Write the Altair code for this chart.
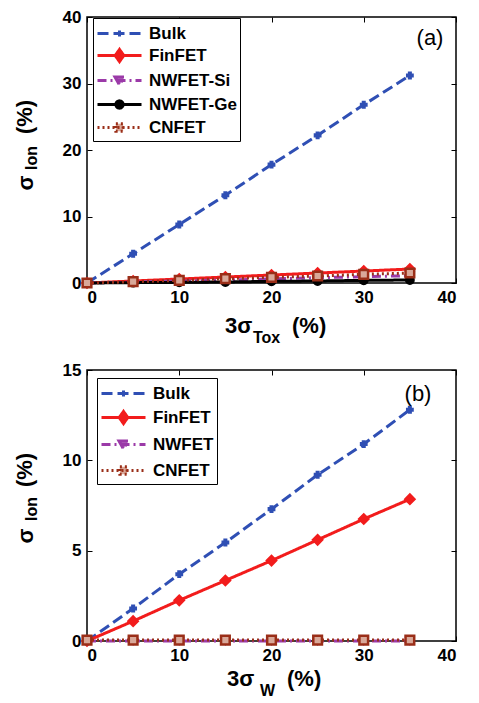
import altair as alt
import pandas as pd

# ---------------- data ----------------
x_vals = [0, 5, 10, 15, 20, 25, 30, 35]

# panel (a): sigma_Ion vs 3 sigma_Tox
a_names = ["Bulk", "FinFET", "NWFET-Si", "NWFET-Ge", "CNFET"]
a_bulk = [0, 4.4, 8.8, 13.2, 17.8, 22.2, 26.8, 31.2]
a_finfet = [0, 0.3, 0.6, 0.9, 1.2, 1.5, 1.8, 2.1]
a_nwsi = [0, 0.15, 0.3, 0.45, 0.6, 0.8, 0.95, 1.1]
a_nwge = [0, 0.05, 0.1, 0.15, 0.25, 0.3, 0.4, 0.45]
a_cnfet = [0, 0.2, 0.4, 0.65, 0.85, 1.05, 1.3, 1.5]

# panel (b): sigma_Ion vs 3 sigma_W
b_names = ["Bulk", "FinFET", "NWFET", "CNFET"]
b_bulk = [0, 1.8, 3.7, 5.45, 7.3, 9.2, 10.9, 12.8]
b_finfet = [0, 1.1, 2.25, 3.35, 4.45, 5.6, 6.75, 7.85]
b_nwfet = [0, 0, 0, 0, 0, 0, 0, 0]
b_cnfet = [0.05, 0.05, 0.05, 0.05, 0.05, 0.05, 0.05, 0.05]

# ---------------- styles ----------------
# legend symbol paths: unit = 11 px (symbolSize 484), line spans 44 px
STYLE = {
    "Bulk": dict(color="#2f4fb4", fill="#2f4fb4", dash=[11, 5], shape="cross", size=40, sw=1.5,
                 lpath="M-2,0L2,0M0,-0.27L0,0.27M-0.27,0L0.27,0"),
    "FinFET": dict(color="#f21c1c", fill="#f21c1c", dash=[1, 0], shape="diamond", size=110, sw=1.5,
                   lpath="M-2,0L2,0M0,-0.55L0.39,0L0,0.55L-0.39,0Z"),
    "NWFET-Si": dict(color="#9b3aa8", fill="#b66cc0", dash=[9, 4, 2, 4], shape="triangle-down",
                     size=70, sw=1.5, lpath="M-2,0L2,0M-0.41,-0.31L0.41,-0.31L0,0.41Z"),
    "NWFET": dict(color="#9b3aa8", fill="#b66cc0", dash=[9, 4, 2, 4], shape="triangle-down",
                  size=70, sw=1.5, lpath="M-2,0L2,0M-0.41,-0.31L0.41,-0.31L0,0.41Z"),
    "NWFET-Ge": dict(color="#000000", fill="#000000", dash=[1, 0], shape="circle", size=70, sw=1.5,
                     lpath="M-2,0L2,0M0.33,0A0.33,0.33 0 1 1 -0.33,0A0.33,0.33 0 1 1 0.33,0Z"),
    "CNFET": dict(color="#9a2e18", fill="#d9a899", dash=[2, 3], shape="square", size=75, sw=2.5,
                  lpath="M-2,0L2,0M-0.33,-0.33L0.33,-0.33L0.33,0.33L-0.33,0.33Z"),
}

FONT = "Liberation Sans"
W = 369
TICK = 5


def make_df(names, series):
    rows = []
    for n, ys in zip(names, series):
        for xv, yv in zip(x_vals, ys):
            rows.append({"x": xv, "y": yv, "series": n})
    return pd.DataFrame(rows)


def txt(t, x, y, size, angle=0, align="left", weight="bold"):
    return alt.Chart(pd.DataFrame({"d": [0]})).mark_text(
        text=t, font=FONT, fontSize=size, fontWeight=weight, color="black",
        align=align, baseline="middle", angle=angle,
    ).encode(x=alt.value(x), y=alt.value(y))


def panel(names, series, ymax, ystep, H, sub, xt, tag, tag_xy, leg_xy, row_pad, ylab_y):
    df = make_df(names, series)
    colors = [STYLE[n]["color"] for n in names]
    fills = [STYLE[n]["fill"] for n in names]
    dashes = [STYLE[n]["dash"] for n in names]
    lpaths = [STYLE[n]["lpath"] for n in names]
    xticks = [0, 10, 20, 30, 40]
    yticks = list(range(0, ymax + 1, ystep))
    xsc = alt.Scale(domain=[0, 40], nice=False)
    ysc = alt.Scale(domain=[0, ymax], nice=False)

    # main axes (bottom / left) with inward ticks
    xs = alt.X("x:Q", scale=xsc, axis=alt.Axis(
        values=xticks, title=None, offset=-TICK, tickSize=TICK, domain=False,
        labelPadding=6))
    ys = alt.Y("y:Q", scale=ysc, axis=alt.Axis(
        values=yticks, title=None, offset=-TICK, tickSize=TICK, domain=False,
        labelPadding=6))
    # mirrored axes (top / right): ticks only
    xs_top = alt.X("x:Q", scale=xsc, axis=alt.Axis(
        values=xticks, title=None, orient="top", offset=-TICK, tickSize=TICK,
        domain=False, labels=False))
    ys_right = alt.Y("y:Q", scale=ysc, axis=alt.Axis(
        values=yticks, title=None, orient="right", offset=-TICK, tickSize=TICK,
        domain=False, labels=False))

    leg = alt.Legend(title=None, orient="none", legendX=leg_xy[0], legendY=leg_xy[1],
                     symbolSize=484, symbolStrokeWidth=3, symbolOffset=11,
                     labelFont=FONT, labelFontSize=17, labelFontWeight="bold",
                     labelColor="black", strokeColor="black", fillColor="white",
                     padding=3, rowPadding=row_pad, labelOffset=17, symbolOpacity=1)

    color = alt.Color("series:N", scale=alt.Scale(domain=names, range=colors), legend=leg)
    dash = alt.StrokeDash("series:N", scale=alt.Scale(domain=names, range=dashes), legend=leg)

    lines = alt.Chart(df).mark_line(strokeWidth=3).encode(
        x=xs, y=ys, color=color, strokeDash=dash,
        order=alt.Order("x:Q"),
    )
    point_layers = []
    for n in names:
        st = STYLE[n]
        point_layers.append(
            alt.Chart(df).transform_filter(alt.datum.series == n).mark_point(
                filled=True, opacity=1, shape=st["shape"], size=st["size"],
                fill=st["fill"], stroke=st["color"], strokeWidth=st["sw"],
            ).encode(x=alt.X("x:Q", axis=None), y=alt.Y("y:Q", axis=None))
        )
    legend_layer = alt.Chart(df).transform_filter("false").mark_point(
        filled=True, opacity=1, strokeWidth=3
    ).encode(
        x=xs_top, y=ys_right, strokeDash=dash,
        fill=alt.Fill("series:N", scale=alt.Scale(domain=names, range=fills), legend=leg),
        stroke=alt.Stroke("series:N", scale=alt.Scale(domain=names, range=colors), legend=leg),
        shape=alt.Shape("series:N", scale=alt.Scale(domain=names, range=lpaths), legend=leg),
    )

    texts = [
        txt("3σ", xt[0], H + xt[4], 22),
        txt(sub, xt[1], H + xt[5], 16),
        txt("(%)", xt[2], H + xt[4], 22),
        txt("σ", -61, ylab_y[0], 22, angle=270, align="center"),
        txt("Ion", -55, ylab_y[1], 16, angle=270, align="center"),
        txt("(%)", -62, ylab_y[2], 22, angle=270, align="center"),
        txt(tag, tag_xy[0], tag_xy[1], 22, align="center", weight="normal"),
    ]
    return alt.layer(lines, *point_layers, legend_layer, *texts).resolve_axis(
        x="independent", y="independent"
    ).properties(width=W, height=H)


pa = panel(a_names, [a_bulk, a_finfet, a_nwsi, a_nwge, a_cnfet], 40, 10, 266,
           "Tox", (138, 166, 205, 0, 43, 55), "(a)", (343, 21), (6, 1), 0,
           (166, 141, 100))
pb = panel(b_names, [b_bulk, b_finfet, b_nwfet, b_cnfet], 15, 5, 271,
           "W", (140, 173, 200, 0, 38, 50), "(b)", (331, 24), (10, 8), 2,
           (166, 139, 100))

chart = alt.vconcat(pa, pb, spacing=87, bounds="flush").resolve_scale(
    color="independent", strokeDash="independent", stroke="independent",
    shape="independent", fill="independent",
).properties(
    padding={"left": 5, "top": -1, "right": 5, "bottom": 2},
).configure_view(stroke="black", strokeWidth=1.5).configure_axis(
    labelFont=FONT, labelFontSize=17, labelFontWeight="bold", labelColor="black",
    domainColor="black", ticks=True, tickColor="black", tickWidth=1, grid=False,
)

chart.save("out.html", embed_options={"renderer": "svg", "actions": False})
